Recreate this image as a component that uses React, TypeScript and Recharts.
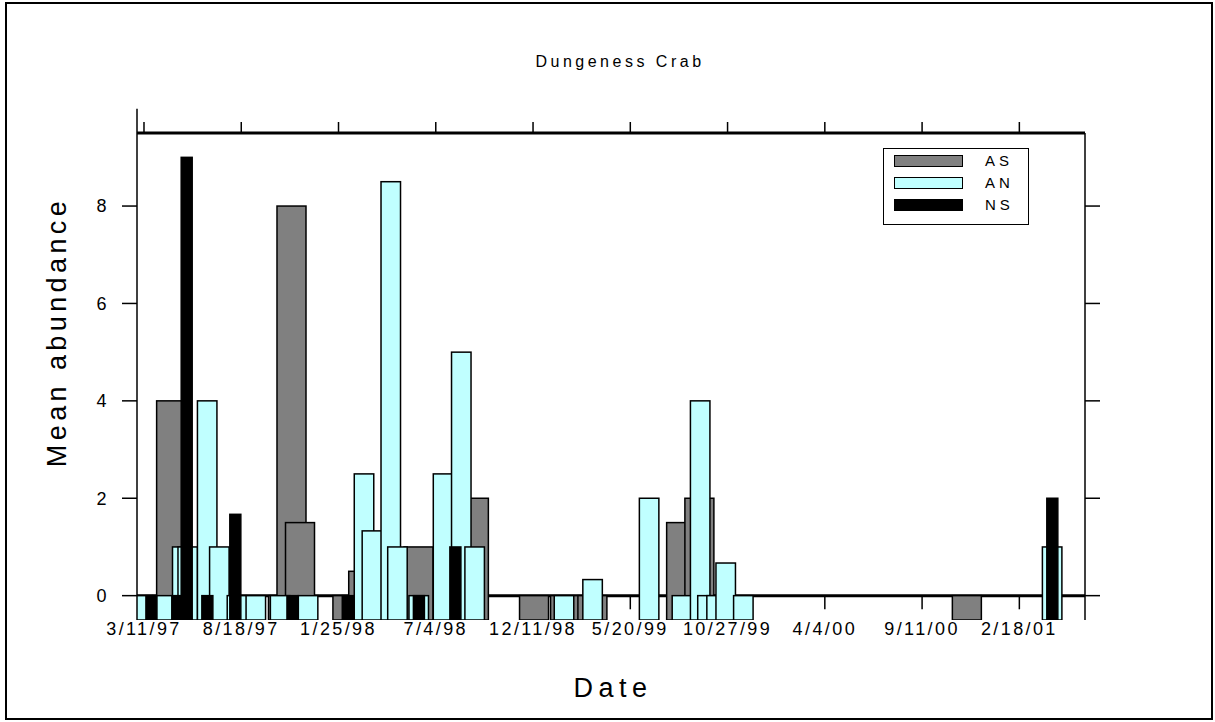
import React from 'react';
import { ComposedChart, Bar, XAxis, YAxis, ReferenceLine, Legend } from 'recharts';

// sampling dates (M/D/YY) and mean abundance per treatment
const AS_DATES = ['4/25/97', '10/26/97', '11/9/97', '11/23/97', '2/9/98', '3/7/98', '6/6/98', '9/5/98', '12/13/98', '2/2/99', '3/19/99', '8/12/99', '9/11/99', '11/24/00'];
const AS_VALUES = [4, 0, 8, 1.5, 0, 0.5, 1, 2, 0, 0, 0, 1.5, 2, 0];

const AN_DATES = ['3/9/97', '4/10/97', '5/13/97', '5/22/97', '6/23/97', '7/13/97', '8/11/97', '9/11/97', '10/21/97', '12/6/97', '3/8/98', '3/21/98', '4/21/98', '5/2/98', '6/6/98', '7/16/98', '8/15/98', '9/6/98', '1/31/99', '3/19/99', '6/20/99', '8/13/99', '9/12/99', '9/24/99', '10/9/99', '10/24/99', '11/22/99', '4/13/01'];
const AN_VALUES = [0, 0, 1, 1, 4, 1, 0, 0, 0, 0, 2.5, 1.33, 8.5, 1, 0, 2.5, 5, 1, 0, 0.33, 2, 0, 4, 0, 0, 0.67, 0, 1];

const NS_DATES = ['3/23/97', '5/5/97', '5/20/97', '6/23/97', '8/8/97', '11/10/97', '2/9/98', '6/6/98', '8/5/98', '4/13/01'];
const NS_VALUES = [0, 0, 9, 0, 1.67, 0, 0, 0, 1, 2];

const SERIES = ['AS', 'AN', 'NS'];
const TICK_LABELS = ['3/11/97', '8/18/97', '1/25/98', '7/4/98', '12/11/98', '5/20/99', '10/27/99', '4/4/00', '9/11/00', '2/18/01'];
const Y_TICKS = [0, 2, 4, 6, 8];

const FONT = 'Arial, "Liberation Sans", sans-serif';
const ORIGIN = Date.UTC(1997, 2, 11);
const BASE = -0.5;
const X_DOMAIN: [number, number] = [-11.5, 1548];
const Y_DOMAIN: [number, number] = [BASE, 9.5];

function toDay(s: string) {
  const [m, d, y] = s.split('/').map(Number);
  const yr = y < 50 ? 2000 + y : 1900 + y;
  return Math.round((Date.UTC(yr, m - 1, d) - ORIGIN) / 86400000);
}

const TICK_DAYS = TICK_LABELS.map(toDay);

function buildRows() {
  const rows = new Map<number, any>();
  const add = (key: string, dates: string[], values: number[]) => {
    dates.forEach((s, i) => {
      const day = toDay(s);
      const row = rows.get(day) ?? { day };
      row[key] = [BASE, values[i]];
      rows.set(day, row);
    });
  };
  add('AS', AS_DATES, AS_VALUES);
  add('AN', AN_DATES, AN_VALUES);
  add('NS', NS_DATES, NS_VALUES);
  return [...rows.values()].sort((a, b) => a.day - b.day);
}

const data = buildRows();

// bars overlap freely in the original, so keep a fixed width centred on the date
const barShape = (w: number) => (props: any) => {
  const { x, y, width, height, fill } = props;
  if (!Number.isFinite(x) || !Number.isFinite(y) || !Number.isFinite(height) || height <= 0) return <g />;
  const cx = x + width / 2;
  return <rect x={cx - w / 2} y={y} width={w} height={height} fill={fill} stroke="#000" strokeWidth={1.5} />;
};

const LegendBox = ({ payload }: any) => {
  const items = [...(payload || [])].sort((a: any, b: any) => SERIES.indexOf(a.value) - SERIES.indexOf(b.value));
  return (
    <div
      style={{
        width: 146,
        height: 77,
        border: '1.5px solid #000',
        boxSizing: 'border-box',
        background: '#fff',
        position: 'relative',
        fontFamily: FONT,
      }}
    >
      {items.map((p: any, i: number) => (
        <div key={p.value} style={{ position: 'absolute', left: 10, top: 6 + i * 22, display: 'flex', alignItems: 'center' }}>
          <div style={{ width: 69, height: 12, background: p.color, border: '1.5px solid #000', boxSizing: 'border-box' }} />
          <span style={{ marginLeft: 22, fontSize: 15, letterSpacing: 4, lineHeight: '12px' }}>{p.value}</span>
        </div>
      ))}
    </div>
  );
};

const noLabel = () => '';

export default function App() {
  const tickText = { fontSize: 18, fill: '#000', letterSpacing: 2.4, fontFamily: FONT };
  return (
    <div style={{ position: 'absolute', left: 0, top: 0, width: 1215, height: 722, background: '#fff', fontFamily: FONT }}>
      <div
        style={{
          position: 'absolute',
          left: 5,
          top: 2,
          width: 1208,
          height: 718,
          border: '2px solid #000',
          boxSizing: 'border-box',
        }}
      />
      <ComposedChart
        width={1215}
        height={722}
        data={data}
        margin={{ top: 103, right: 70, bottom: 72, left: 77 }}
        style={{ position: 'absolute', left: 0, top: 0 }}
      >
        <XAxis
          dataKey="day"
          type="number"
          domain={X_DOMAIN}
          allowDataOverflow
          ticks={TICK_DAYS}
          tickFormatter={(v: number) => TICK_LABELS[TICK_DAYS.indexOf(v)] ?? ''}
          axisLine={false}
          tickLine={false}
          tickSize={0}
          tickMargin={2}
          height={30}
          interval={0}
          tick={tickText}
        />
        <XAxis
          xAxisId="top"
          orientation="top"
          dataKey="day"
          type="number"
          domain={X_DOMAIN}
          allowDataOverflow
          ticks={TICK_DAYS}
          interval={0}
          tickFormatter={noLabel}
          tickSize={11}
          height={30}
          axisLine={{ stroke: '#000', strokeWidth: 3 }}
          tickLine={{ stroke: '#000', strokeWidth: 1.5 }}
        />
        <YAxis
          type="number"
          domain={Y_DOMAIN}
          allowDataOverflow
          ticks={Y_TICKS}
          interval={0}
          width={60}
          tickSize={15}
          tickMargin={13}
          axisLine={{ stroke: '#000', strokeWidth: 1.5 }}
          tickLine={{ stroke: '#000', strokeWidth: 1.5 }}
          tick={tickText}
        />
        <YAxis
          yAxisId="right"
          orientation="right"
          type="number"
          domain={Y_DOMAIN}
          allowDataOverflow
          ticks={Y_TICKS}
          interval={0}
          width={60}
          tickSize={15}
          tickFormatter={noLabel}
          axisLine={{ stroke: '#000', strokeWidth: 1.5 }}
          tickLine={{ stroke: '#000', strokeWidth: 1.5 }}
        />
        <ReferenceLine y={0} stroke="#000" strokeWidth={3} zIndex={100} />
        {TICK_DAYS.map((t) => (
          <ReferenceLine
            key={t}
            segment={[{ x: t, y: 0 }, { x: t, y: -0.28 }]}
            stroke="#000"
            strokeWidth={1.5}
            zIndex={100}
          />
        ))}
        <ReferenceLine
          segment={[{ x: X_DOMAIN[0], y: 9.5 }, { x: X_DOMAIN[0], y: 10 }]}
          ifOverflow="visible"
          stroke="#000"
          strokeWidth={1.5}
        />
        <Bar dataKey="AS" name="AS" fill="#808080" barSize={29} shape={barShape(29)} legendType="rect" isAnimationActive={false} />
        <Bar dataKey="AN" name="AN" fill="#c0ffff" barSize={19.5} shape={barShape(19.5)} legendType="rect" isAnimationActive={false} />
        <Bar dataKey="NS" name="NS" fill="#000000" barSize={11} shape={barShape(11)} legendType="rect" isAnimationActive={false} />
        <Legend
          layout="vertical"
          align="center"
          verticalAlign="middle"
          content={<LegendBox />}
          wrapperStyle={{ left: 883, top: 148, width: 146, height: 77 }}
        />
      </ComposedChart>
      <div style={{ position: 'absolute', left: 620, top: 62, transform: 'translate(-50%, -50%)', fontSize: 16, letterSpacing: 3.5, whiteSpace: 'nowrap' }}>
        Dungeness Crab
      </div>
      <div
        style={{
          position: 'absolute',
          left: 57,
          top: 332,
          transform: 'translate(-50%, -50%) rotate(-90deg)',
          fontSize: 27,
          letterSpacing: 4.4,
          whiteSpace: 'nowrap',
        }}
      >
        Mean abundance
      </div>
      <div style={{ position: 'absolute', left: 613, top: 688, transform: 'translate(-50%, -50%)', fontSize: 27, letterSpacing: 5.5, whiteSpace: 'nowrap' }}>
        Date
      </div>
    </div>
  );
}
